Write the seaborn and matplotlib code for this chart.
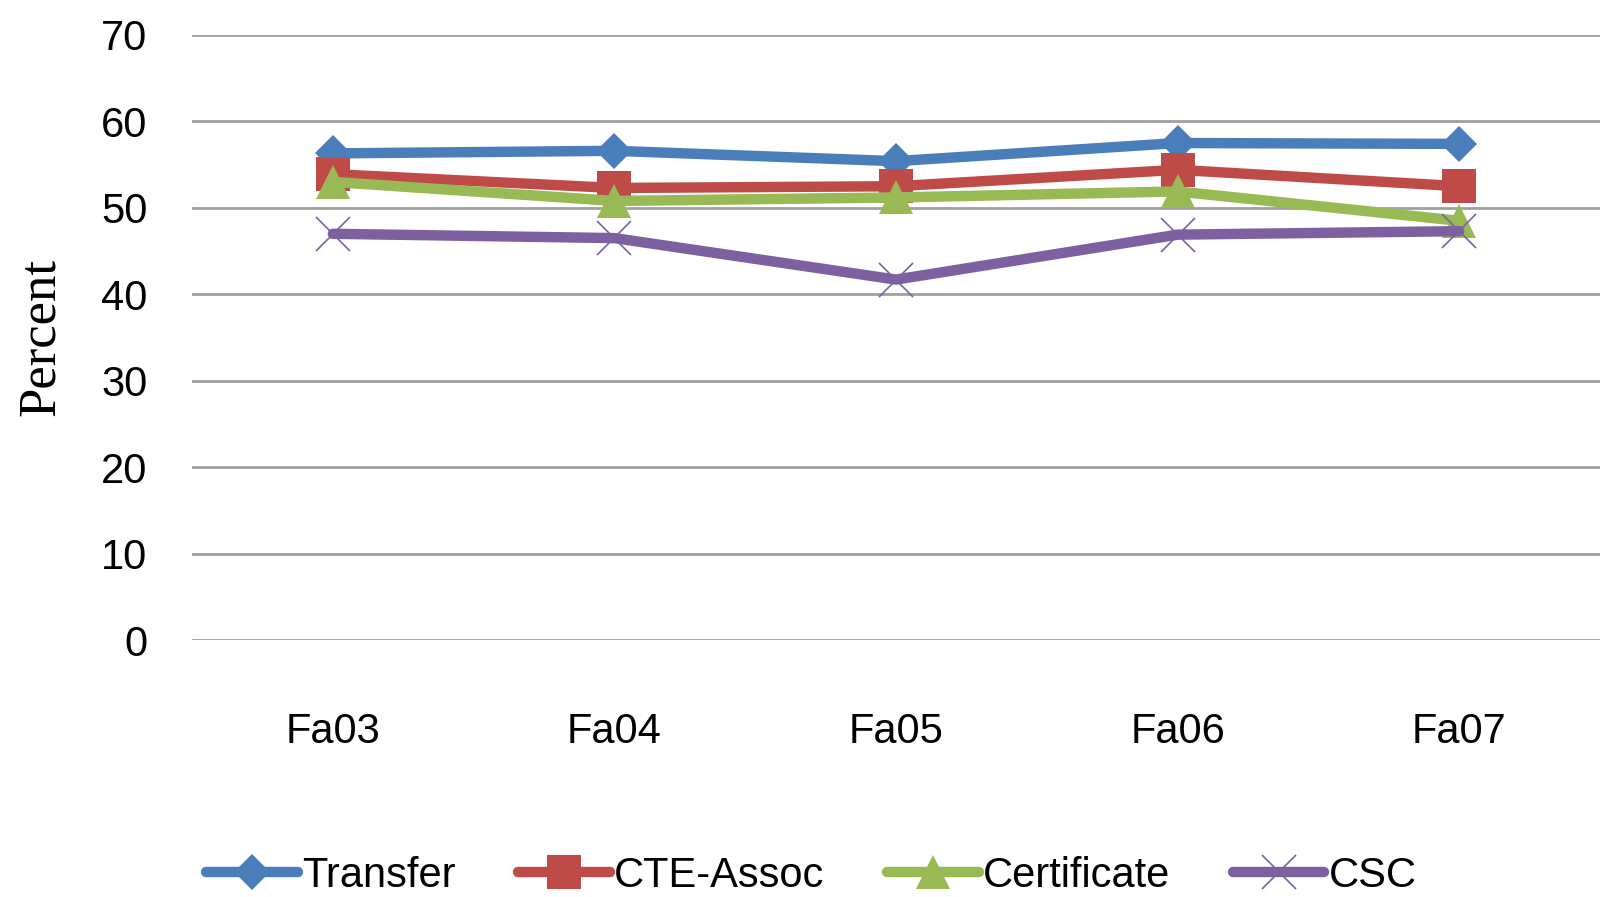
import pandas as pd
import matplotlib.pyplot as plt
import seaborn as sns

terms = ['Fa03', 'Fa04', 'Fa05', 'Fa06', 'Fa07']
transfer = [56.3, 56.6, 55.4, 57.5, 57.4]
cte_assoc = [53.9, 52.3, 52.5, 54.4, 52.5]
certificate = [53.0, 50.8, 51.2, 51.9, 48.5]
csc = [47.0, 46.5, 41.7, 46.9, 47.3]

series = ['Transfer', 'CTE-Assoc', 'Certificate', 'CSC']
values = [transfer, cte_assoc, certificate, csc]
colors = ['#4A7EBB', '#BE4B48', '#98B954', '#7D60A0']
markers = ['D', 's', '^', 'x']
msizes = [18, 24, 24, 25]

sns.set_style('white')
plt.rcParams['font.family'] = ['Liberation Sans Narrow', 'Liberation Sans', 'DejaVu Sans']
plt.rcParams['text.color'] = 'black'
plt.rcParams['xtick.color'] = 'black'
plt.rcParams['ytick.color'] = 'black'

fig = plt.figure(figsize=(16, 8.97), dpi=100)
ax = fig.add_axes([0.12, 0.2865, 0.88, 0.6745])

for name, vals, c, m, ms in zip(series, values, colors, markers, msizes):
    df = pd.DataFrame({'term': terms, 'pct': vals})
    sns.lineplot(data=df, x='term', y='pct', ax=ax, color=c, marker=m,
                 markersize=ms, linewidth=7.5, label=name,
                 markeredgewidth=1.2 if m == 'x' else 0, markeredgecolor=c)

ax.set_ylim(0, 70)
ax.set_xlim(-0.5, 4.5)
ax.set_yticks(range(0, 71, 10))
ax.yaxis.grid(True, color='#A0A0A0', linewidth=2)
ax.set_axisbelow(True)
for s in ax.spines.values():
    s.set_visible(False)
ax.tick_params(axis='y', length=0, pad=32, labelsize=30)
ax.tick_params(axis='x', length=0, pad=52, labelsize=30)
ax.set_xlabel('')
ax.set_ylabel('Percent', family='Liberation Serif', fontsize=38, labelpad=26, color='black')

ax.legend(loc='lower center', bbox_to_anchor=(0.44, -0.485), ncol=4, frameon=False,
          fontsize=30, handlelength=2.2, handletextpad=0.1, columnspacing=1.5)

fig.savefig('out.png', dpi=100)
